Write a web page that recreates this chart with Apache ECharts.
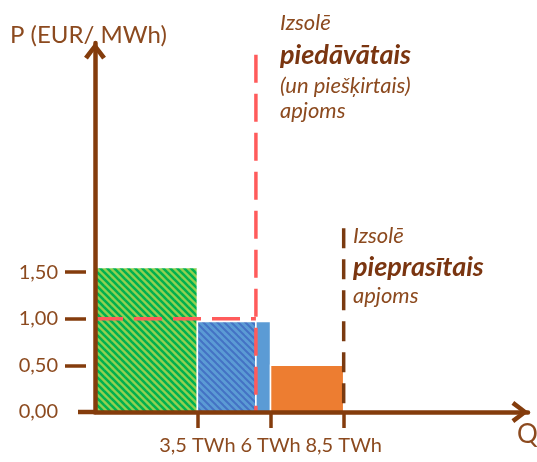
<!DOCTYPE html>
<html>
<head>
<meta charset="utf-8">
<script src="https://cdn.jsdelivr.net/npm/echarts@6/dist/echarts.min.js"></script>
<style>
html, body { margin: 0; padding: 0; background: #fff; }
#chart { width: 537px; height: 462px; }
</style>
</head>
<body>
<div id="chart"></div>
<script>
// offered volume blocks: start / end (TWh) and price (EUR/MWh)
const blockStart = [0, 3.5, 6];
const blockEnd = [3.5, 6, 8.5];
const blockPrice = [1.55, 0.97, 0.5];
const allocatedQ = 5.5;     // piedāvātais (un piešķirtais) apjoms
const clearingPrice = 1.0;
const demandQ = 8.5;        // pieprasītais apjoms
const qTicks = [3.5, 6, 8.5];
const pTicks = [0, 0.5, 1, 1.5];

const brown = '#843c0c';
const textBrown = '#8c4a1f';
const font = 'Lato, "Noto Sans", sans-serif';

function stripes(base, line, w) {
  const s = 7;
  const c = document.createElement('canvas');
  c.width = s; c.height = s;
  const ctx = c.getContext('2d');
  ctx.fillStyle = base;
  ctx.fillRect(0, 0, s, s);
  ctx.strokeStyle = line;
  ctx.lineWidth = w;
  [-s, 0, s].forEach(function (k) {
    ctx.beginPath();
    ctx.moveTo(-1, k - 1);
    ctx.lineTo(s + 1, s + k + 1);
    ctx.stroke();
  });
  return { image: c, repeat: 'repeat' };
}

const hatchFill = [stripes('#92d050', '#00b050', 2.6), stripes('#5b9bd5', '#4472c4', 2), '#ed7d31'];
const solidFill = ['#92d050', '#5b9bd5', '#ed7d31'];

function renderBlock(params, api) {
  const i = params.dataIndex;
  const x0 = api.value(0), x1 = api.value(1), p = api.value(2);
  const cut = Math.min(Math.max(allocatedQ, x0), x1);
  const segs = [[x0, cut, hatchFill[i]], [cut, x1, solidFill[i]]];
  const children = [];
  segs.forEach(function (sg) {
    if (sg[1] - sg[0] <= 0) return;
    const a = api.coord([sg[0], p]);
    const b = api.coord([sg[1], 0]);
    children.push({
      type: 'rect',
      shape: { x: a[0], y: a[1], width: b[0] - a[0], height: b[1] - a[1] },
      style: { fill: sg[2], stroke: '#fff', lineWidth: 1.5 }
    });
  });
  return { type: 'group', children: children };
}

const arrow = 'path://M0,13 L10,0 L20,13 L16.5,15.5 L10,6.5 L3.5,15.5 Z';

const chart = echarts.init(document.getElementById('chart'));
chart.setOption({
  animation: false,
  backgroundColor: '#fff',
  grid: { left: 95, right: 9, top: 43, bottom: 50 },
  xAxis: {
    type: 'value',
    min: 0,
    max: 14.8,
    z: 5,
    splitLine: { show: false },
    axisLine: {
      lineStyle: { color: brown, width: 4.5 },
      symbol: ['none', arrow],
      symbolSize: [22, 17],
      symbolOffset: [0, -8]
    },
    axisTick: { show: true, customValues: qTicks, length: 16, lineStyle: { color: brown, width: 3.5 } },
    axisLabel: {
      customValues: qTicks,
      margin: 24,
      color: textBrown,
      fontFamily: font,
      fontSize: 20,
      formatter: function (v) { return String(v).replace('.', ',') + ' TWh'; }
    }
  },
  yAxis: [
    {
      type: 'value',
      min: 0,
      max: 3.955,
      z: 5,
      splitLine: { show: false },
      axisLine: {
        show: true,
        lineStyle: { color: brown, width: 4.5 },
        symbol: ['none', arrow],
        symbolSize: [22, 17],
        symbolOffset: [0, -8]
      },
      axisTick: { show: false },
      axisLabel: { show: false }
    },
    {
      type: 'value',
      min: 0,
      max: 3.955,
      offset: 9,
      position: 'left',
      splitLine: { show: false },
      axisLine: { show: false },
      axisTick: { show: true, customValues: pTicks.filter(function (v) { return v > 0; }), length: 21, lineStyle: { color: brown, width: 3.5 } },
      axisLabel: {
        customValues: pTicks,
        margin: 28,
        color: textBrown,
        fontFamily: font,
        fontSize: 20,
        formatter: function (v) { return v.toFixed(2).replace('.', ','); }
      }
    }
  ],
  series: [
    {
      type: 'custom',
      renderItem: renderBlock,
      encode: { x: [0, 1], y: 2 },
      data: blockStart.map(function (s, i) { return [s, blockEnd[i], blockPrice[i]]; }),
      silent: true
    },
    {
      type: 'line',
      data: [[allocatedQ, 3.83], [allocatedQ, 0]],
      symbol: 'none',
      silent: true,
      lineStyle: { color: '#ff5b5b', width: 3.5, type: [28, 11] }
    },
    {
      type: 'line',
      data: [[0, clearingPrice], [allocatedQ, clearingPrice]],
      symbol: 'none',
      silent: true,
      lineStyle: { color: '#ff5b5b', width: 3.5, type: [28, 11] }
    },
    {
      type: 'line',
      data: [[demandQ, 1.97], [demandQ, 0]],
      symbol: 'none',
      silent: true,
      lineStyle: { color: '#7a3a10', width: 3.5, type: [20, 11] }
    }
  ],
  graphic: [
    { type: 'line', shape: { x1: 78, y1: 412, x2: 95, y2: 412 }, style: { stroke: brown, lineWidth: 4.5 }, z: 5 },
    { type: 'text', x: 10, y: 35, style: { text: 'P (EUR/ MWh)', font: '24px ' + font, fill: textBrown, verticalAlign: 'middle' } },
    { type: 'text', x: 517, y: 435, style: { text: 'Q', font: '26px ' + font, fill: textBrown, verticalAlign: 'middle' } },
    { type: 'text', x: 280, y: 23, style: { text: 'Izsolē', font: 'italic 22px ' + font, fill: textBrown, verticalAlign: 'middle' } },
    { type: 'text', x: 280, y: 55, style: { text: 'piedāvātais', font: 'italic bold 27px ' + font, fill: '#7a3510', verticalAlign: 'middle' } },
    { type: 'text', x: 280, y: 86, style: { text: '(un piešķirtais)', font: 'italic 22px ' + font, fill: textBrown, verticalAlign: 'middle' } },
    { type: 'text', x: 280, y: 111, style: { text: 'apjoms', font: 'italic 22px ' + font, fill: textBrown, verticalAlign: 'middle' } },
    { type: 'text', x: 353, y: 236, style: { text: 'Izsolē', font: 'italic 22px ' + font, fill: textBrown, verticalAlign: 'middle' } },
    { type: 'text', x: 353, y: 267, style: { text: 'pieprasītais', font: 'italic bold 27px ' + font, fill: '#7a3510', verticalAlign: 'middle' } },
    { type: 'text', x: 353, y: 296, style: { text: 'apjoms', font: 'italic 22px ' + font, fill: textBrown, verticalAlign: 'middle' } }
  ]
});
</script>
</body>
</html>
